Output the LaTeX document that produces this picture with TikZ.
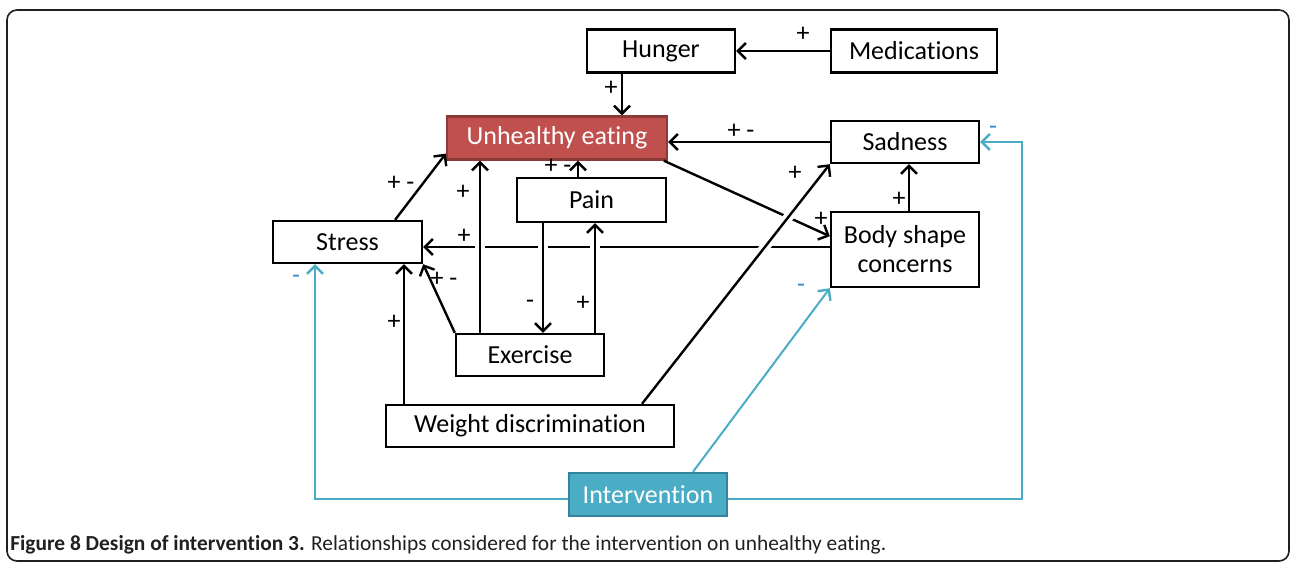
\documentclass[tikz,border=0pt]{standalone}
\usepackage{fontspec}
\setmainfont[Ligatures=NoCommon]{Carlito}
\usetikzlibrary{arrows.meta}
\definecolor{rojo}{HTML}{C0504D}
\definecolor{rojoborde}{HTML}{8C3A38}
\definecolor{turquesa}{HTML}{4BACC6}
\definecolor{turquesaborde}{HTML}{31849B}
\definecolor{azulsigno}{HTML}{3A8CC8}
\definecolor{texto}{HTML}{231F20}
\begin{document}
\begin{tikzpicture}[x=0.5pt, y=-0.5pt,
      caja/.style = {shape=rectangle, draw, line width=1.2pt,
        align=center, font=\fontsize{13}{14.5}\selectfont,
        inner sep=0pt
      },
      foco/.style = {caja, fill=rojo, draw=rojoborde, text=white},
      accion/.style = {caja, fill=turquesa, draw=turquesaborde, text=white},
      flecha/.style = {draw, line width=1.2pt,
        -{Straight Barb[length=4pt, width=8pt, line width=1.2pt]}},
      azul/.style = {flecha, draw=turquesa, line width=1pt},
      halo/.style = {preaction={draw=white, -, line width=5pt,
        shorten <=8pt, shorten >=8pt}},
      signo/.style = {font=\fontsize{13}{14}\selectfont, inner sep=0pt},
      signoazul/.style = {signo, text=azulsigno}
    ]
    \useasboundingbox (0,0) rectangle (1292,562);
    \draw[texto, line width=0.8pt, rounded corners=5pt] (7,10) rectangle (1289,561);

    %cajas
    \node[caja, minimum width=74pt, minimum height=21.5pt] (hunger) at (661,51) {Hunger};
    \node[caja, minimum width=83pt, minimum height=21.5pt] (meds) at (914,51) {Medications};
    \node[foco, minimum width=110pt, minimum height=21.5pt] (ue) at (557,138) {Unhealthy eating};
    \node[caja, minimum width=74pt, minimum height=21pt] (sad) at (905,142) {Sadness};
    \node[caja, minimum width=74.5pt, minimum height=22pt] (pain) at (591.5,200) {Pain};
    \node[caja, minimum width=74.5pt, minimum height=21pt] (stress) at (347.5,242) {Stress};
    \node[caja, minimum width=74pt, minimum height=37.5pt] (body) at (905,249.5) {Body shape\\concerns};
    \node[caja, minimum width=74pt, minimum height=21pt] (exer) at (530,355) {Exercise};
    \node[caja, minimum width=144pt, minimum height=21pt] (wd) at (530,426) {Weight discrimination};
    \node[accion, minimum width=79pt, minimum height=21.5pt] (interv) at (648,494.5) {Intervention};

    %puntos de paso
    \coordinate (xh) at (622,0);
    \coordinate (xb) at (909,0);
    \coordinate (ys) at (0,247);
    \coordinate (xe) at (480,0);
    \coordinate (xp) at (578,0);
    \coordinate (xd) at (543,0);
    \coordinate (xu) at (595,0);
    \coordinate (xw) at (404,0);
    \coordinate (xg) at (642,0);
    \coordinate (xq) at (693,0);
    \coordinate (yb) at (0,499);
    \coordinate (xl) at (315,0);
    \coordinate (xr) at (1022,300);

    %flechas de fondo
    \draw[flecha] (body.west |- ys) -- (stress.east |- ys);
    \draw[flecha] (ue.-12) -- (body.170);

    %flechas
    \draw[flecha] (meds.west) -- (hunger.east);
    \draw[flecha] (hunger.south -| xh) -- (ue.north -| xh);
    \draw[flecha] (sad.west) -- (sad.west -| ue.east);
    \draw[flecha] (body.north -| xb) -- (sad.south -| xb);
    \draw[flecha] (stress.25) -- (ue.188);
    \draw[flecha, halo] (exer.north -| xe) -- (ue.south -| xe);
    \draw[flecha] (pain.north -| xp) -- (ue.south -| xp);
    \draw[flecha, halo] (pain.south -| xd) -- (exer.north -| xd);
    \draw[flecha, halo] (exer.north -| xu) -- (pain.south -| xu);
    \draw[flecha] (exer.north west) -- (stress.south east);
    \draw[flecha] (wd.north -| xw) -- (stress.south -| xw);
    \draw[flecha, halo] (wd.north -| xg) -- (sad.south west);

    %intervencion
    \draw[azul] (interv.west |- yb) -| (stress.south -| xl);
    \draw[azul] (interv.north -| xq) -- (body.south west);
    \draw[azul] (interv.east |- yb) -| (xr) |- (sad.east);

    %signos
    \node[signo] (s1) at (803,34) {+};
    \node[signo] (s2) at (611,88) {+};
    \node[signo] (s3) at (741,131) {+ -};
    \node[signo] (s4) at (821,219) {+};
    \node[signo] (s5) at (899,199) {+};
    \node[signo] (s6) at (464,236) {+};
    \node[signo] (s7) at (401,183) {+ -};
    \node[signo] (s8) at (463,192) {+};
    \node[signo] (s9) at (558,166) {+ -};
    \node[signo] (s10) at (530,304) {-};
    \node[signo] (s11) at (583,303) {+};
    \node[signo] (s12) at (444,279) {+ -};
    \node[signo] (s13) at (394,322) {+};
    \node[signo] (s14) at (795,173) {+};
    \node[signoazul] (s15) at (296,279) {-};
    \node[signoazul] (s16) at (801,288) {-};
    \node[signoazul] (s17) at (993,130) {-};

    %pie
    \node[anchor=base west, inner sep=0pt, text=texto, font=\fontsize{10.7}{12}\selectfont] (pie) at (10,550)
      {\textbf{Figure 8 Design of intervention 3.} Relationships considered for the intervention on unhealthy eating.};
\end{tikzpicture}
\end{document}
